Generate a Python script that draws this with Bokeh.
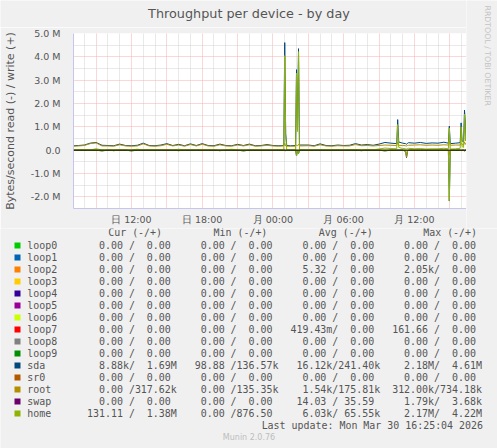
import math
from bokeh.plotting import figure
from bokeh.models import Range1d, FixedTicker, Span
from bokeh.layouts import column, row
from bokeh.core.properties import value
from bokeh.embed import file_html
from bokeh.resources import INLINE

# ---------------- data (hours since Sunday 00:00, values in MB/s) ----------------
hours = [
    7.08, 7.5, 8.0, 8.5, 9.0, 9.5, 10.0, 10.5, 11.0, 11.5,
    12.0, 12.5, 13.0, 13.5, 14.0, 14.5, 15.0, 15.5, 16.0, 16.5,
    17.0, 17.5, 18.0, 18.5, 19.0, 19.5, 20.0, 20.5, 21.0, 21.5,
    22.0, 22.5, 23.0, 23.5, 24.0, 24.5,
    24.92, 25.0, 25.08, 25.17, 25.5,
    25.92, 26.0, 26.08, 26.17, 26.25,
    27.0, 27.5, 28.0, 28.5, 29.0, 29.5, 30.0, 30.5, 31.0, 31.5,
    32.0, 32.5, 33.0, 33.5, 34.0, 34.5,
    34.58, 34.67, 35.0, 35.25, 35.33, 35.42, 35.5,
    36.0, 36.5, 37.0, 37.5, 38.0, 38.5,
    38.88, 38.96, 39.04, 39.5,
    39.88, 39.96, 40.04, 40.17, 40.25, 40.33, 40.42,
]

sda_write = [
    0.19, 0.20, 0.22, 0.30, 0.33, 0.21, 0.20, 0.19, 0.26, 0.20,
    0.19, 0.21, 0.30, 0.20, 0.19, 0.22, 0.28, 0.20, 0.25, 0.19,
    0.27, 0.20, 0.28, 0.20, 0.19, 0.26, 0.20, 0.19, 0.25, 0.20,
    0.26, 0.19, 0.20, 0.24, 0.20, 0.19,
    0.20, 4.61, 0.70, 0.20, 0.19,
    0.20, 3.45, 0.90, 4.35, 0.22,
    0.22, 0.19, 0.27, 0.20, 0.19, 0.22, 0.20, 0.21, 0.28, 0.22,
    0.24, 0.21, 0.26, 0.33, 0.30, 0.28,
    1.31, 0.35, 0.30, 0.28, 0.25, 0.30, 0.32,
    0.30, 0.33, 0.29, 0.31, 0.30, 0.34,
    0.30, 1.03, 0.28, 0.30,
    0.32, 1.17, 0.40, 0.35, 1.72, 0.60, 1.69,
]

root_write = [
    0.17, 0.18, 0.20, 0.28, 0.31, 0.18, 0.18, 0.17, 0.23, 0.18,
    0.17, 0.18, 0.27, 0.18, 0.17, 0.19, 0.25, 0.18, 0.22, 0.17,
    0.24, 0.18, 0.25, 0.18, 0.17, 0.23, 0.18, 0.17, 0.22, 0.18,
    0.23, 0.17, 0.18, 0.21, 0.18, 0.17,
    0.18, 0.30, 0.18, 0.17, 0.17,
    0.17, 0.22, 0.19, 0.25, 0.18,
    0.19, 0.17, 0.23, 0.18, 0.17, 0.19, 0.18, 0.18, 0.24, 0.19,
    0.20, 0.18, 0.20, 0.22, 0.21, 0.20,
    0.35, 0.21, 0.20, 0.19, 0.18, 0.20, 0.21,
    0.22, 0.23, 0.21, 0.22, 0.21, 0.23,
    0.22, 0.40, 0.21, 0.22,
    0.22, 0.30, 0.24, 0.22, 0.35, 0.25, 0.32,
]

home_write = [
    0.01, 0.01, 0.02, 0.01, 0.06, 0.01, 0.01, 0.02, 0.01, 0.01,
    0.01, 0.04, 0.01, 0.01, 0.01, 0.01, 0.02, 0.01, 0.04, 0.01,
    0.01, 0.01, 0.02, 0.01, 0.01, 0.01, 0.01, 0.04, 0.01, 0.01,
    0.01, 0.02, 0.01, 0.01, 0.01, 0.02,
    0.01, 4.05, 0.65, 0.02, 0.01,
    0.01, 3.30, 0.80, 4.22, 0.03,
    0.01, 0.01, 0.02, 0.01, 0.01, 0.02, 0.01, 0.02, 0.03, 0.02,
    0.03, 0.02, 0.05, 0.09, 0.07, 0.06,
    1.10, 0.12, 0.07, 0.06, 0.05, 0.07, 0.08,
    0.06, 0.07, 0.05, 0.06, 0.06, 0.08,
    0.06, 0.95, 0.05, 0.06,
    0.08, 1.00, 0.15, 0.12, 1.55, 0.40, 1.38,
]

sda_read = [
    0, 0, 0, 0, 0, 0.03, 0, 0.02, 0, 0,
    0.03, 0, 0, 0, 0, 0, 0, 0, 0.02, 0,
    0, 0, 0, 0, 0, 0.02, 0, 0, 0, 0.03,
    0, 0, 0, 0, 0, 0,
    0, 0, 0.02, 0, 0,
    0, 0.25, 0, 0.15, 0,
    0, 0, 0, 0, 0, 0, 0, 0, 0, 0.02,
    0, 0, 0, 0.03, 0, 0,
    0, 0, 0, 0.05, 0.32, 0.05, 0,
    0, 0, 0, 0, 0, 0,
    0, 2.18, 0, 0,
    0, 0.02, 0, 0, 0.03, 0, 0.01,
]

root_read = [
    0, 0, 0, 0, 0, 0, 0, 0, 0, 0,
    0, 0, 0, 0, 0, 0, 0, 0, 0, 0,
    0, 0, 0, 0, 0, 0, 0, 0, 0, 0,
    0, 0, 0, 0, 0, 0,
    0, 0, 0, 0, 0,
    0, 0, 0, 0, 0,
    0, 0, 0, 0, 0, 0, 0, 0, 0, 0,
    0, 0, 0, 0, 0, 0,
    0, 0, 0, 0, 0.30, 0, 0,
    0, 0, 0, 0, 0, 0,
    0, 0.20, 0, 0,
    0, 0, 0, 0, 0, 0, 0,
]

home_read = [
    0, 0, 0, 0, 0, 0.03, 0, 0.02, 0, 0,
    0.03, 0, 0, 0, 0, 0, 0, 0, 0.02, 0,
    0, 0, 0, 0, 0, 0.02, 0, 0, 0, 0.03,
    0, 0, 0, 0, 0, 0,
    0, 0, 0.02, 0, 0,
    0, 0.25, 0, 0.15, 0,
    0, 0, 0, 0, 0, 0, 0, 0, 0, 0.02,
    0, 0, 0, 0.03, 0, 0,
    0, 0, 0, 0.05, 0.15, 0.05, 0,
    0, 0, 0, 0, 0, 0,
    0, 2.17, 0, 0,
    0, 0.02, 0, 0, 0.03, 0, 0.01,
]

# axis ticks / labels
x_label_hours = [12, 18, 24, 30, 36]
x_labels = ["日 12:00", "日 18:00", "月 00:00", "月 06:00", "月 12:00"]
x_grid_major = [9, 12, 15, 18, 21, 24, 27, 30, 33, 36, 39]
x_grid_minor = [8, 10, 11, 13, 14, 16, 17, 19, 20, 22, 23, 25, 26, 28, 29, 31, 32, 34, 35, 37, 38, 40]
y_ticks = [-2, -1, 0, 1, 2, 3, 4, 5]
y_labels = ["-2.0 M", "-1.0 M", "0.0", "1.0 M", "2.0 M", "3.0 M", "4.0 M", "5.0 M"]
y_grid_minor = [-1.5, -0.5, 0.5, 1.5, 2.5, 3.5, 4.5]

# legend table
devices = ["loop0", "loop1", "loop2", "loop3", "loop4", "loop5", "loop6", "loop7",
           "loop8", "loop9", "sda", "sr0", "root", "swap", "home"]
dev_colors = ["#00CC00", "#0066B3", "#FF8000", "#FFCC00", "#330099", "#990099", "#CCFF00", "#FF0000",
              "#808080", "#008F00", "#00487D", "#B35A00", "#B38F00", "#6B006B", "#8FB300"]
cur_read = ["0.00", "0.00", "0.00", "0.00", "0.00", "0.00", "0.00", "0.00",
            "0.00", "0.00", "8.88k", "0.00", "0.00", "0.00", "131.11"]
cur_write = ["0.00", "0.00", "0.00", "0.00", "0.00", "0.00", "0.00", "0.00",
             "0.00", "0.00", "1.69M", "0.00", "317.62k", "0.00", "1.38M"]
min_read = ["0.00", "0.00", "0.00", "0.00", "0.00", "0.00", "0.00", "0.00",
            "0.00", "0.00", "98.88", "0.00", "0.00", "0.00", "0.00"]
min_write = ["0.00", "0.00", "0.00", "0.00", "0.00", "0.00", "0.00", "0.00",
             "0.00", "0.00", "136.57k", "0.00", "135.35k", "0.00", "876.50"]
avg_read = ["0.00", "0.00", "5.32", "0.00", "0.00", "0.00", "0.00", "419.43m",
            "0.00", "0.00", "16.12k", "0.00", "1.54k", "14.03", "6.03k"]
avg_write = ["0.00", "0.00", "0.00", "0.00", "0.00", "0.00", "0.00", "0.00",
             "0.00", "0.00", "241.40k", "0.00", "175.81k", "35.59", "65.55k"]
max_read = ["0.00", "0.00", "2.05k", "0.00", "0.00", "0.00", "0.00", "161.66",
            "0.00", "0.00", "2.18M", "0.00", "312.00k", "1.79k", "2.17M"]
max_write = ["0.00", "0.00", "0.00", "0.00", "0.00", "0.00", "0.00", "0.00",
             "0.00", "0.00", "4.61M", "0.00", "734.18k", "3.68k", "4.22M"]
headers = ["Cur (-/+)", "Min (-/+)", "Avg (-/+)", "Max (-/+)"]
title_text = "Throughput per device - by day"
ylabel_text = "Bytes/second read (-) / write (+)"
side_text = "RRDTOOL / TOBI OETIKER"
update_text = "Last update: Mon Mar 30 16:25:04 2026"
version_text = "Munin 2.0.76"

# ---------------- styling ----------------
BG = "#f0f0f0"
TXT = "#555555"
AXIS = "#c4c6ee"
MAJOR = "#f4b0b0"
MINOR = "#d2d2d2"
SDA, ROOT, HOME = "#00487D", "#B38F00", "#8FB300"

W = 497          # whole image width
LW = 466         # width of the left block (title + plot)
TH = 27          # title strip height
PH = 228         # height of upper block (title strip + plot)


def pixel_fig(w, h):
    f = figure(width=w, height=h, x_range=Range1d(0, w), y_range=Range1d(h, 0),
               x_axis_type=None, y_axis_type=None, output_backend="svg", toolbar_location=None,
               title=None, min_border=0, background_fill_color=BG, border_fill_color=BG)
    f.outline_line_color = None
    f.xgrid.visible = False
    f.ygrid.visible = False
    return f


# title strip
t = pixel_fig(LW, TH)
t.text(x=[248.5], y=[13], text=[title_text], text_font=value("DejaVu Sans"),
       text_font_size=value("12.8px"), text_color=TXT, text_baseline="middle", text_align="center")

# main plot
p = figure(width=LW, height=PH - TH, x_range=Range1d(7.083, 40.417), y_range=Range1d(-2.5, 5.0),
           output_backend="svg", toolbar_location=None, title=None,
           min_border_left=66, min_border_right=0, min_border_top=33 - TH, min_border_bottom=PH - 208,
           background_fill_color="white", border_fill_color=BG)
p.outline_line_color = None

p.xaxis.ticker = FixedTicker(ticks=x_label_hours)
p.xaxis.major_label_overrides = {h: s for h, s in zip(x_label_hours, x_labels)}
p.yaxis.ticker = FixedTicker(ticks=y_ticks)
p.yaxis.major_label_overrides = {v: s for v, s in zip(y_ticks, y_labels)}
for ax in (p.xaxis[0], p.yaxis[0]):
    ax.axis_line_color = AXIS
    ax.axis_line_width = 1
    ax.major_tick_line_color = None
    ax.minor_tick_line_color = None
    ax.major_label_text_font = "DejaVu Sans"
    ax.major_label_text_font_size = "9.5px"
    ax.major_label_text_color = TXT
p.xaxis.major_label_standoff = -1
p.yaxis.major_label_standoff = 7
p.yaxis.axis_label = ylabel_text
p.yaxis.axis_label_text_font = "DejaVu Sans"
p.yaxis.axis_label_text_font_size = "11px"
p.yaxis.axis_label_text_font_style = "normal"
p.yaxis.axis_label_text_color = TXT
p.yaxis.axis_label_standoff = 11

p.xgrid.ticker = FixedTicker(ticks=x_grid_major, minor_ticks=x_grid_minor)
p.ygrid.ticker = FixedTicker(ticks=y_ticks, minor_ticks=y_grid_minor)
for g in (p.xgrid[0], p.ygrid[0]):
    g.grid_line_color = MAJOR
    g.grid_line_dash = "1 1"
    g.grid_line_width = 1
    g.minor_grid_line_color = MINOR
    g.minor_grid_line_dash = "1 1"
    g.minor_grid_line_width = 1

for wv, rv, col in [(sda_write, sda_read, SDA), (root_write, root_read, ROOT), (home_write, home_read, HOME)]:
    p.line(hours, [-v for v in rv], line_color=col, line_width=1)
    p.line(hours, wv, line_color=col, line_width=1)

p.add_layout(Span(location=0, dimension="width", line_color="black", line_width=1))

# right strip with the vertical watermark
r = pixel_fig(W - LW, PH)
r.text(x=[20.5], y=[5], text=[side_text], angle=-math.pi / 2, text_font=value("DejaVu Sans"),
       text_font_size=value("7.8px"), text_color="#c4c4c4", text_baseline="middle", text_align="left")

# legend table (pixel coordinates of the lower area)
LH = 448 - PH
q = pixel_fig(W, LH)


def fld(s):
    return (s if s[-1].isalpha() else s + " ").rjust(7)


rows = []
for i, name in enumerate(devices):
    line = (name.ljust(10)
            + fld(cur_read[i]) + "/" + fld(cur_write[i]) + "  "
            + fld(min_read[i]) + "/" + fld(min_write[i]) + "  "
            + fld(avg_read[i]) + "/" + fld(avg_write[i]) + "  "
            + fld(max_read[i]) + "/" + fld(max_write[i]))
    rows.append(line.replace(" ", "\u00a0"))

row_y = [245 - PH + 12 * i for i in range(len(devices))]
q.rect(x=[17] * len(devices), y=row_y, width=6, height=6, fill_color=dev_colors, line_color=None)
q.text(x=[26.7] * len(devices), y=row_y, text=rows, text_font=value("DejaVu Sans Mono"),
       text_font_size=value("9.95px"), text_color=TXT, text_baseline="middle", text_align="left")
q.text(x=[107.7, 213, 318.3, 422.7], y=[232.3 - PH] * 4, text=headers, text_font=value("DejaVu Sans Mono"),
       text_font_size=value("9.95px"), text_color=TXT, text_baseline="middle", text_align="left")
q.text(x=[482.5], y=[424.7 - PH], text=[update_text], text_font=value("DejaVu Sans Mono"),
       text_font_size=value("9.95px"), text_color=TXT, text_baseline="middle", text_align="right")
q.text(x=[248.5], y=[437.3 - PH], text=[version_text], text_font=value("DejaVu Sans"),
       text_font_size=value("8px"), text_color="#bdbdbd", text_baseline="middle", text_align="center")

for fig in (t, p, r, q):
    if "frame_align" in fig.properties():
        fig.frame_align = False

layout = column(row(column(t, p, spacing=0), r, spacing=0), q, spacing=0)
html = file_html(layout, INLINE, title="Throughput per device - by day")
html = html.replace("<body>", '<body style="background-color:#f0f0f0;">', 1)
open("out.html", "w").write(html)
